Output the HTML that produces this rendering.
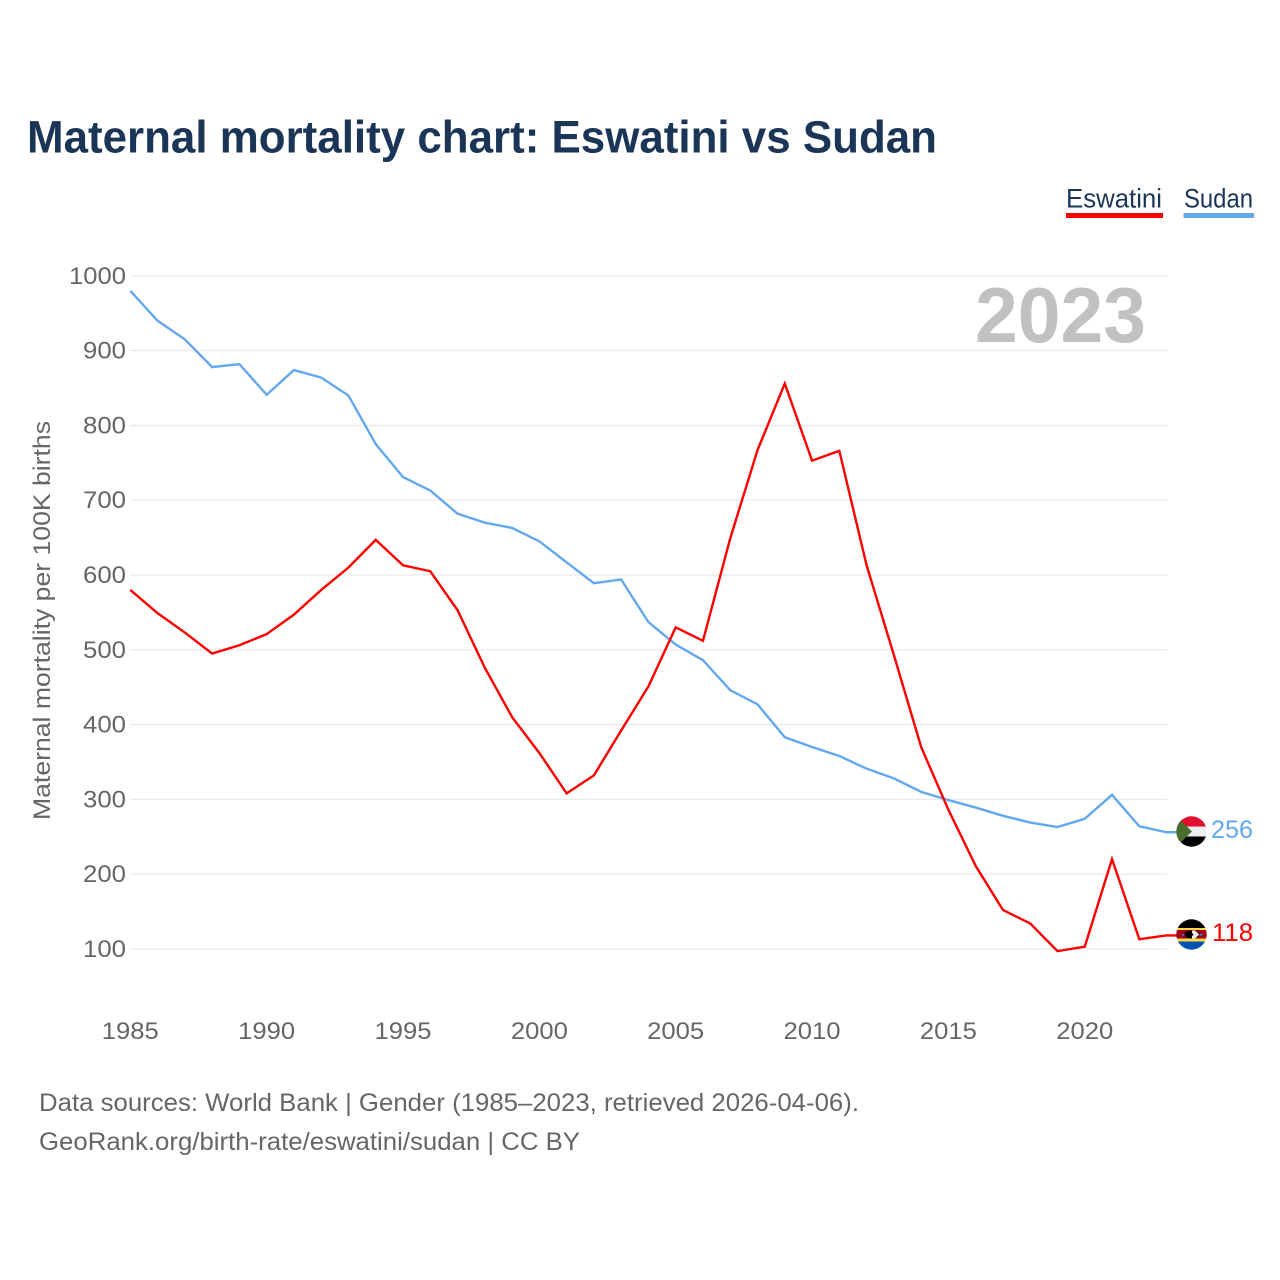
<!DOCTYPE html>
<html lang="en">
<head>
<meta charset="utf-8">
<title>Maternal mortality chart: Eswatini vs Sudan</title>
<style>
html,body{margin:0;padding:0;background:#fff;width:1280px;height:1280px;overflow:hidden}
svg{display:block}
text{font-family:"Liberation Sans",sans-serif}
</style>
</head>
<body>
<svg id="chart" width="1280" height="1280" viewBox="0 0 1280 1280" xmlns="http://www.w3.org/2000/svg">
  <defs>
    <clipPath id="clip-sudan"><circle cx="1191.5" cy="831.5" r="15.2"/></clipPath>
    <clipPath id="clip-eswatini"><circle cx="1191.5" cy="934.5" r="15.2"/></clipPath>
  </defs>
  <rect x="0" y="0" width="1280" height="1280" fill="#fff"/>
  <text x="27" y="152.5" font-size="45" font-weight="700" fill="#1a3556" textLength="910" lengthAdjust="spacingAndGlyphs">Maternal mortality chart: Eswatini vs Sudan</text>

  <g>
    <g>
      <text x="1066" y="207.5" font-size="27" fill="#1a3556" textLength="96" lengthAdjust="spacingAndGlyphs">Eswatini</text>
      <rect x="1066" y="213" width="97" height="5" fill="#ff0000"/>
    </g>
    <g>
      <text x="1184" y="207.5" font-size="27" fill="#1a3556" textLength="69" lengthAdjust="spacingAndGlyphs">Sudan</text>
      <rect x="1183.5" y="213" width="70.5" height="5" fill="#63a8ee"/>
    </g>
  </g>

  <g id="grid"></g>
  <g id="yticks"></g>
  <g id="xticks"></g>

  <text x="975" y="342" font-size="78" font-weight="700" fill="#c1c1c1" textLength="171" lengthAdjust="spacingAndGlyphs">2023</text>

  <text transform="translate(50 820) rotate(-90)" x="0" y="0" font-size="24" fill="#666" textLength="399" lengthAdjust="spacingAndGlyphs">Maternal mortality per 100K births</text>

  <g id="series"></g>

  <g clip-path="url(#clip-sudan)">
    <rect x="1176" y="816" width="31" height="10.5" fill="#e0102f"/>
    <rect x="1176" y="826.5" width="31" height="10" fill="#eeeeee"/>
    <rect x="1176" y="836.5" width="31" height="11" fill="#000"/>
    <polygon points="1176,816 1192,831.5 1176,847" fill="#496e2d"/>
  </g>
  <g clip-path="url(#clip-eswatini)">
    <rect x="1176" y="919" width="31" height="9" fill="#000"/>
    <rect x="1176" y="928" width="31" height="2" fill="#ffda44"/>
    <rect x="1176" y="930" width="31" height="8.5" fill="#a2001d"/>
    <rect x="1176" y="938.5" width="31" height="3" fill="#ffda44"/>
    <rect x="1176" y="941.5" width="31" height="9" fill="#0052b4"/>
    <ellipse cx="1192" cy="934.5" rx="7.5" ry="4" fill="#000"/>
    <path d="M1192 930.5 h3 l4.5 4 l-4.5 4 h-3 z" fill="#eee"/>
    <circle cx="1192" cy="934.5" r="1.3" fill="#000"/>
    <rect x="1182" y="934" width="2.5" height="1.5" fill="#338af3"/>
    <rect x="1200" y="934" width="2.5" height="1.5" fill="#338af3"/>
  </g>

  <text x="1211" y="838" font-size="25" fill="#63a8ee" textLength="42" lengthAdjust="spacingAndGlyphs">256</text>
  <text x="1212" y="941" font-size="25" fill="#ff0000" textLength="41" lengthAdjust="spacingAndGlyphs">118</text>

  <text x="39" y="1111" font-size="25" fill="#666" textLength="820" lengthAdjust="spacingAndGlyphs">Data sources: World Bank | Gender (1985–2023, retrieved 2026-04-06).</text>
  <text x="39" y="1150" font-size="25" fill="#666" textLength="541" lengthAdjust="spacingAndGlyphs">GeoRank.org/birth-rate/eswatini/sudan | CC BY</text>
</svg>
<script>
const years = [1985,1986,1987,1988,1989,1990,1991,1992,1993,1994,1995,1996,1997,1998,1999,2000,2001,2002,2003,2004,2005,2006,2007,2008,2009,2010,2011,2012,2013,2014,2015,2016,2017,2018,2019,2020,2021,2022,2023];
const eswatini = [580,549,523,495,506,521,547,580,610,647,613,605,553,476,410,362,308,332,392,451,530,512,649,767,856,753,766,613,493,370,286,211,152,134,97,103,220,113,118];
const sudan = [980,940,915,878,882,841,874,864,840,775,731,713,682,670,663,645,617,589,594,537,507,486,446,427,383,370,358,341,328,310,299,289,278,269,263,274,306,264,256];
const yTicks = [100,200,300,400,500,600,700,800,900,1000];
const xTicks = [1985,1990,1995,2000,2005,2010,2015,2020];

const NS = 'http://www.w3.org/2000/svg';
function xScale(year) { return 130.3 + (year - 1985) * 27.27; }
function yScale(value) { return 948.9 - (value - 100) * 0.7478; }
function mk(tag, parent) {
  const el = document.createElementNS(NS, tag);
  parent.appendChild(el);
  return el;
}

const gridGroup = document.getElementById('grid');
const yGroup = document.getElementById('yticks');
const xGroup = document.getElementById('xticks');
const seriesGroup = document.getElementById('series');

yTicks.forEach(function (v) {
  const line = mk('line', gridGroup);
  
  
  line.setAttribute('x1', 130);
  line.setAttribute('x2', 1167);
  line.setAttribute('y1', yScale(v));
  line.setAttribute('y2', yScale(v));
  line.setAttribute('stroke', '#ebebeb');
  line.setAttribute('stroke-width', 1.3);
  const label = mk('text', yGroup);
  
  
  label.setAttribute('x', 126);
  label.setAttribute('y', yScale(v) + 8);
  label.setAttribute('text-anchor', 'end');
  label.setAttribute('font-size', 24);
  label.setAttribute('fill', '#666');
  label.textContent = v;
  const digits = String(v).length;
  label.setAttribute('textLength', digits === 4 ? 57 : 43);
  label.setAttribute('lengthAdjust', 'spacingAndGlyphs');
});

xTicks.forEach(function (y) {
  const label = mk('text', xGroup);
  
  
  label.setAttribute('x', xScale(y));
  label.setAttribute('y', 1039);
  label.setAttribute('text-anchor', 'middle');
  label.setAttribute('font-size', 24);
  label.setAttribute('fill', '#666');
  label.setAttribute('textLength', 57);
  label.setAttribute('lengthAdjust', 'spacingAndGlyphs');
  label.textContent = y;
});

function drawSeries(values, color, name) {
  const pts = values.map(function (v, i) { return xScale(years[i]).toFixed(2) + ',' + yScale(v).toFixed(2); });
  const last = values[values.length - 1];
  pts.push('1178,' + yScale(last).toFixed(2));
  const line = mk('polyline', seriesGroup);
  
  
  line.setAttribute('points', pts.join(' '));
  line.setAttribute('fill', 'none');
  line.setAttribute('stroke', color);
  line.setAttribute('stroke-width', 2.4);
  line.setAttribute('stroke-linejoin', 'miter');
}
drawSeries(sudan, '#63a8ee', 'sudan-line');
drawSeries(eswatini, '#ff0000', 'eswatini-line');
</script>
</body>
</html>
